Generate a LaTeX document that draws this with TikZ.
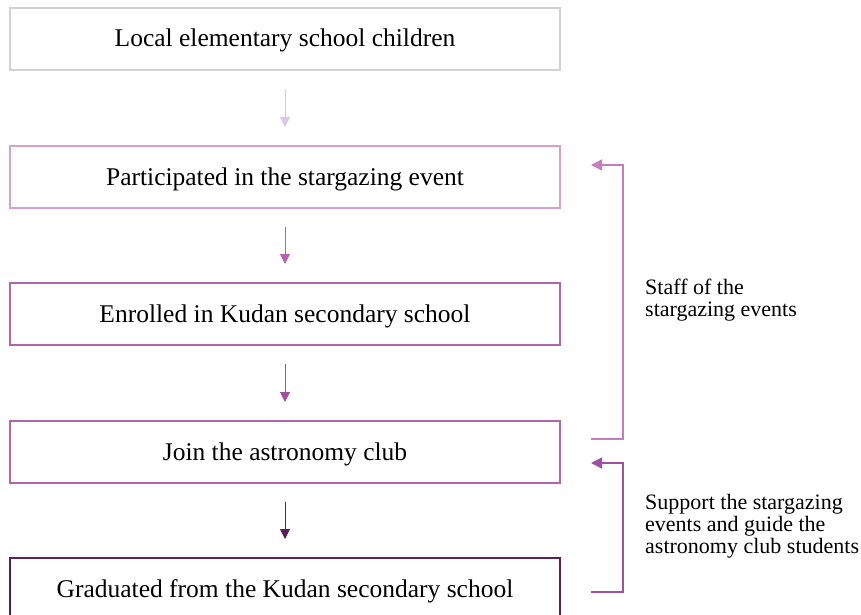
\documentclass[tikz,border=0pt]{standalone}
\usepackage{fontspec}
\setmainfont{Liberation Serif}
\usetikzlibrary{positioning,arrows.meta,calc}
\definecolor{stgray}{HTML}{D2D2D2}
\definecolor{stpale}{HTML}{D8C8E6}
\definecolor{stpink}{HTML}{D7A0D2}
\definecolor{stmauve}{HTML}{B464AF}
\definecolor{stplum}{HTML}{A050A0}
\definecolor{stdark}{HTML}{5A1E5A}
\definecolor{stlink}{HTML}{C67CC0}

\begin{document}
\begin{tikzpicture}[x=1pt, y=-1pt,
  stage/.style={draw=#1, line width=2pt, minimum width=550pt, minimum height=62pt,
    inner sep=0, text height=18pt, text depth=2pt, font=\fontsize{25.5}{30}\selectfont},
  flow/.style={draw=#1, line width=1pt, -{Triangle[width=10pt,length=10pt]}},
  back/.style={draw=#1, line width=1.3pt, -{Triangle[width=11pt,length=11pt]}},
  note/.style={anchor=west, align=left, inner sep=0,
    font=\fontsize{22}{22}\selectfont}]
\clip (0,0) rectangle (861,615);
% flow of the stages
\node[stage=stgray]  (child)  at (285,39)  {Local elementary school children};
\node[stage=stpink]  (event)  at (285,177) {Participated in the stargazing event};
\node[stage=stmauve] (enroll) at (285,314) {Enrolled in Kudan secondary school};
\node[stage=stmauve] (club)   at (285,452) {Join the astronomy club};
\node[stage=stdark]  (grad)   at (285,589) {Graduated from the Kudan secondary school};
\foreach \a/\b/\c in {child/event/stpale, event/enroll/stmauve,
                      enroll/club/stplum, club/grad/stdark} {
  \draw[flow=\c] ([yshift=-18pt]\a.south) -- ([yshift=18pt]\b.north);
}
% feedback on the right
\coordinate (s1) at ($(club.north east)+(30,19)$);
\coordinate (e1) at ($(event.north east)+(30,20)$);
\coordinate (s2) at ($(grad.north east)+(30,35)$);
\coordinate (e2) at ($(club.north east)+(30,43)$);
\draw[back=stlink] (s1) -- ++(32,0) |- (e1);
\draw[back=stplum] (s2) -- ++(32,0) |- (e2);
\node[note] (staff) at (645,300) {Staff of the\\stargazing events};
\node[note] (guide) at (645,526) {Support the stargazing\\events and guide the\\astronomy club students};
\end{tikzpicture}
\end{document}
